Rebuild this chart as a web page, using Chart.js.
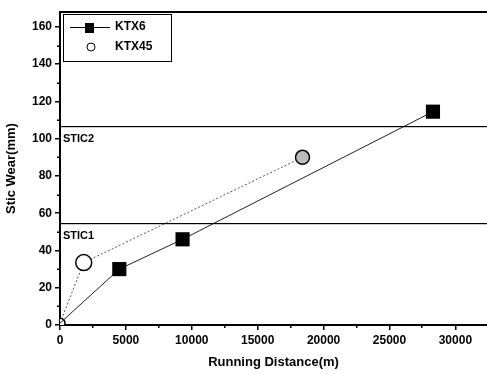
<!DOCTYPE html>
<html>
<head>
<meta charset="utf-8">
<script src="https://cdn.jsdelivr.net/npm/chart.js@4"></script>
</head>
<body style="margin:0; background:#fff">
<canvas id="chart" width="487" height="374"></canvas>
<script>
// running distance (m) and stic wear (mm) per train type
const ktx6Distance = [0, 4500, 9300, 28300];
const ktx6Wear = [1, 30, 46, 114.5];
const ktx45Distance = [0, 1800, 18400];
const ktx45Wear = [1, 33.5, 90];

// limit lines
const sticNames = ["STIC1", "STIC2"];
const sticLevels = [54.8, 107];

const xTickValues = [0, 5000, 10000, 15000, 20000, 25000, 30000];
const yTickValues = [0, 20, 40, 60, 80, 100, 120, 140, 160];

const FONT = "Liberation Sans, Arial, sans-serif";

function toPoints(xs, ys) {
    return xs.map((x, i) => ({ x: x, y: ys[i] }));
}

// minor ticks, limit lines, top frame and the boxed legend
const extras = {
    id: "extras",
    afterDraw(chart) {
        const ctx = chart.ctx;
        const area = chart.chartArea;
        const xs = chart.scales.x;
        const ys = chart.scales.y;
        const w = area.right - area.left;
        ctx.save();
        ctx.fillStyle = "#000";

        // minor ticks
        for (let v = 2500; v < xs.max; v += 5000) {
            const px = Math.round(xs.getPixelForValue(v));
            ctx.fillRect(px - 1, area.bottom, 1.5, 3);
        }
        for (let v = 10; v < ys.max; v += 20) {
            const py = Math.round(ys.getPixelForValue(v));
            ctx.fillRect(area.left - 3, py - 0.5, 3, 1.5);
        }

        // top frame
        ctx.fillRect(area.left, area.top - 1, w, 2);

        // limit lines with labels
        ctx.font = "bold 11px " + FONT;
        ctx.textBaseline = "middle";
        sticLevels.forEach((lvl, i) => {
            const py = Math.round(ys.getPixelForValue(lvl));
            ctx.fillRect(area.left, py, w, 1.2);
            ctx.fillText(sticNames[i], area.left + 3, py + 13);
        });

        // legend box
        const lx = area.left + 3, ly = area.top + 2;
        ctx.strokeStyle = "#000";
        ctx.lineWidth = 1;
        ctx.strokeRect(lx + 0.5, ly + 0.5, 108, 47);
        ctx.fillRect(lx + 7, ly + 13, 40, 1);
        ctx.fillRect(lx + 22, ly + 9, 9, 10);
        ctx.beginPath();
        ctx.arc(lx + 28, ly + 33, 4, 0, Math.PI * 2);
        ctx.fillStyle = "#fff";
        ctx.fill();
        ctx.stroke();
        ctx.fillStyle = "#000";
        ctx.font = "bold 12px " + FONT;
        ctx.fillText("KTX6", lx + 52, ly + 13);
        ctx.fillText("KTX45", lx + 52, ly + 33);
        ctx.restore();
    }
};

new Chart(document.getElementById("chart"), {
    type: "scatter",
    data: {
        datasets: [
            {
                label: "KTX6",
                data: toPoints(ktx6Distance, ktx6Wear),
                showLine: true,
                borderColor: "#222",
                borderWidth: 1,
                pointStyle: "rect",
                pointRadius: [0, 10, 10, 10],
                pointBackgroundColor: "#000",
                pointBorderColor: "#000",
                pointBorderWidth: 0
            },
            {
                label: "KTX45",
                data: toPoints(ktx45Distance, ktx45Wear),
                showLine: true,
                borderColor: "#555",
                borderWidth: 1,
                borderDash: [2, 2],
                pointStyle: "circle",
                pointRadius: [5, 8, 7],
                pointBackgroundColor: ["#fff", "#fff", "#bbb"],
                pointBorderColor: "#000",
                pointBorderWidth: 1.5
            }
        ]
    },
    options: {
        responsive: false,
        animation: false,
        layout: { autoPadding: false, padding: { left: 0, top: 12, right: 0, bottom: 0 } },
        plugins: {
            legend: { display: false },
            tooltip: { enabled: false }
        },
        scales: {
            x: {
                type: "linear",
                min: 0,
                max: 32400,
                afterBuildTicks: s => { s.ticks = xTickValues.map(v => ({ value: v })); },
                afterFit: s => { s.height = 49; s.paddingLeft = 0; s.paddingRight = 0; },
                grid: { drawOnChartArea: false, tickLength: 5, color: "#000", lineWidth: 1.5 },
                border: { color: "#000", width: 2 },
                ticks: {
                    color: "#000",
                    padding: 3,
                    maxRotation: 0,
                    callback: v => String(v),
                    font: { family: FONT, size: 12, weight: "bold" }
                },
                title: {
                    display: true,
                    text: "Running Distance(m)",
                    color: "#000",
                    padding: { top: 14 },
                    font: { family: FONT, size: 13, weight: "bold" }
                }
            },
            y: {
                min: 0,
                max: 168,
                afterBuildTicks: s => { s.ticks = yTickValues.map(v => ({ value: v })); },
                afterFit: s => { s.width = 60; s.paddingTop = 0; s.paddingBottom = 0; },
                grid: { drawOnChartArea: false, tickLength: 5, color: "#000", lineWidth: 1.5 },
                border: { color: "#000", width: 2 },
                ticks: {
                    color: "#000",
                    padding: 3,
                    font: { family: FONT, size: 12, weight: "bold" }
                },
                title: {
                    display: true,
                    text: "Stic Wear(mm)",
                    color: "#000",
                    padding: { bottom: 3 },
                    font: { family: FONT, size: 13, weight: "bold" }
                }
            }
        }
    },
    plugins: [extras]
});
</script>
</body>
</html>
